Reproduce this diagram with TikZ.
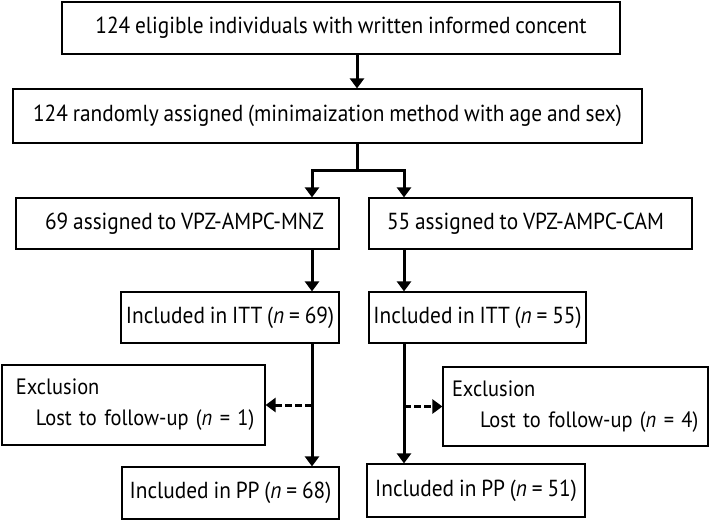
\documentclass[tikz,border=0pt]{standalone}
\usepackage{fontspec}
\setmainfont{PT Sans}[FakeStretch=0.92, WordSpace=0.85]
\usepackage{tikz}
\usetikzlibrary{positioning, arrows.meta}

\begin{document}
\begin{tikzpicture}[
    x=1pt, y=-1pt,
    box/.style={draw, line width=1.2pt, minimum height=52pt, inner sep=0pt, font=\fontsize{23.2}{31}\selectfont},
    exbox/.style={box, align=left, font=\fontsize{22.2}{31}\selectfont},
    arrow/.style={-{Triangle[length=10pt, width=14pt]}, line width=3pt},
    dasharrow/.style={arrow, dash pattern=on 7pt off 3pt}
]
    \useasboundingbox (0,0) rectangle (709,520);

    % === Boxes ===
    \node[box, minimum width=558pt] (elig) at (341,28) {124 eligible individuals with written informed concent};
    \node[box, minimum width=629pt, minimum height=54pt] (rand) at (327.5,116) {124 randomly assigned (minimaization method with age and sex)};

    \node[box, minimum width=323pt, minimum height=51pt] (mnz) at (177.5,223.5) {\hspace*{14pt}69 assigned to VPZ-AMPC-MNZ};
    \node[box, minimum width=323pt, minimum height=51pt] (cam) at (530.5,223.5) {55 assigned to VPZ-AMPC-CAM\hspace*{10pt}};

    \node[box, minimum width=218pt, minimum height=51pt] (ittA) at (230,317.5) {Included in ITT (\textit{n} = 69)};
    \node[box, minimum width=217pt, minimum height=51pt] (ittB) at (477.5,317.5) {Included in ITT (\textit{n} = 55)};

    \node[exbox, minimum width=263pt, minimum height=80pt, text width=235pt] (exA) at (133.5,405)
        {Exclusion\\\mbox{\hspace*{20pt}Lost to follow-up (\textit{n} = 1)}};
    \node[exbox, minimum width=265pt, minimum height=79pt, text width=247pt] (exB) at (575.5,406.5)
        {Exclusion\\\mbox{\hspace*{28pt}Lost to follow-up (\textit{n} = 4)}};

    \node[box, minimum width=217pt] (ppA) at (230.5,493) {Included in PP (\textit{n} = 68)};
    \node[box, minimum width=218pt, minimum height=53pt] (ppB) at (476,490.5) {Included in PP (\textit{n} = 51)};

    % === Connectors ===
    \coordinate (fork) at (357,170);
    \coordinate (laneA) at (312,170);
    \coordinate (laneB) at (404,170);

    \draw[arrow] (elig.south -| fork) -- (rand.north -| fork);
    \draw[line width=3pt] (rand.south -| fork) -- (fork);
    \draw[arrow] ([xshift=1.5pt]fork) -- (laneA) -- (mnz.north -| laneA);
    \draw[arrow] ([xshift=-1.5pt]fork) -- (laneB) -- (cam.north -| laneB);

    \draw[arrow] (mnz.south -| laneA) -- (ittA.north -| laneA);
    \draw[arrow] (cam.south -| laneB) -- (ittB.north -| laneB);

    \draw[arrow] (ittA.south -| laneA) -- (ppA.north -| laneA);
    \draw[arrow] (ittB.south -| laneB) -- (ppB.north -| laneB);

    \draw[dasharrow] (exA.east -| laneA) -- (exA.east);
    \draw[dasharrow] (exB.west -| laneB) -- (exB.west);

\end{tikzpicture}
\end{document}
